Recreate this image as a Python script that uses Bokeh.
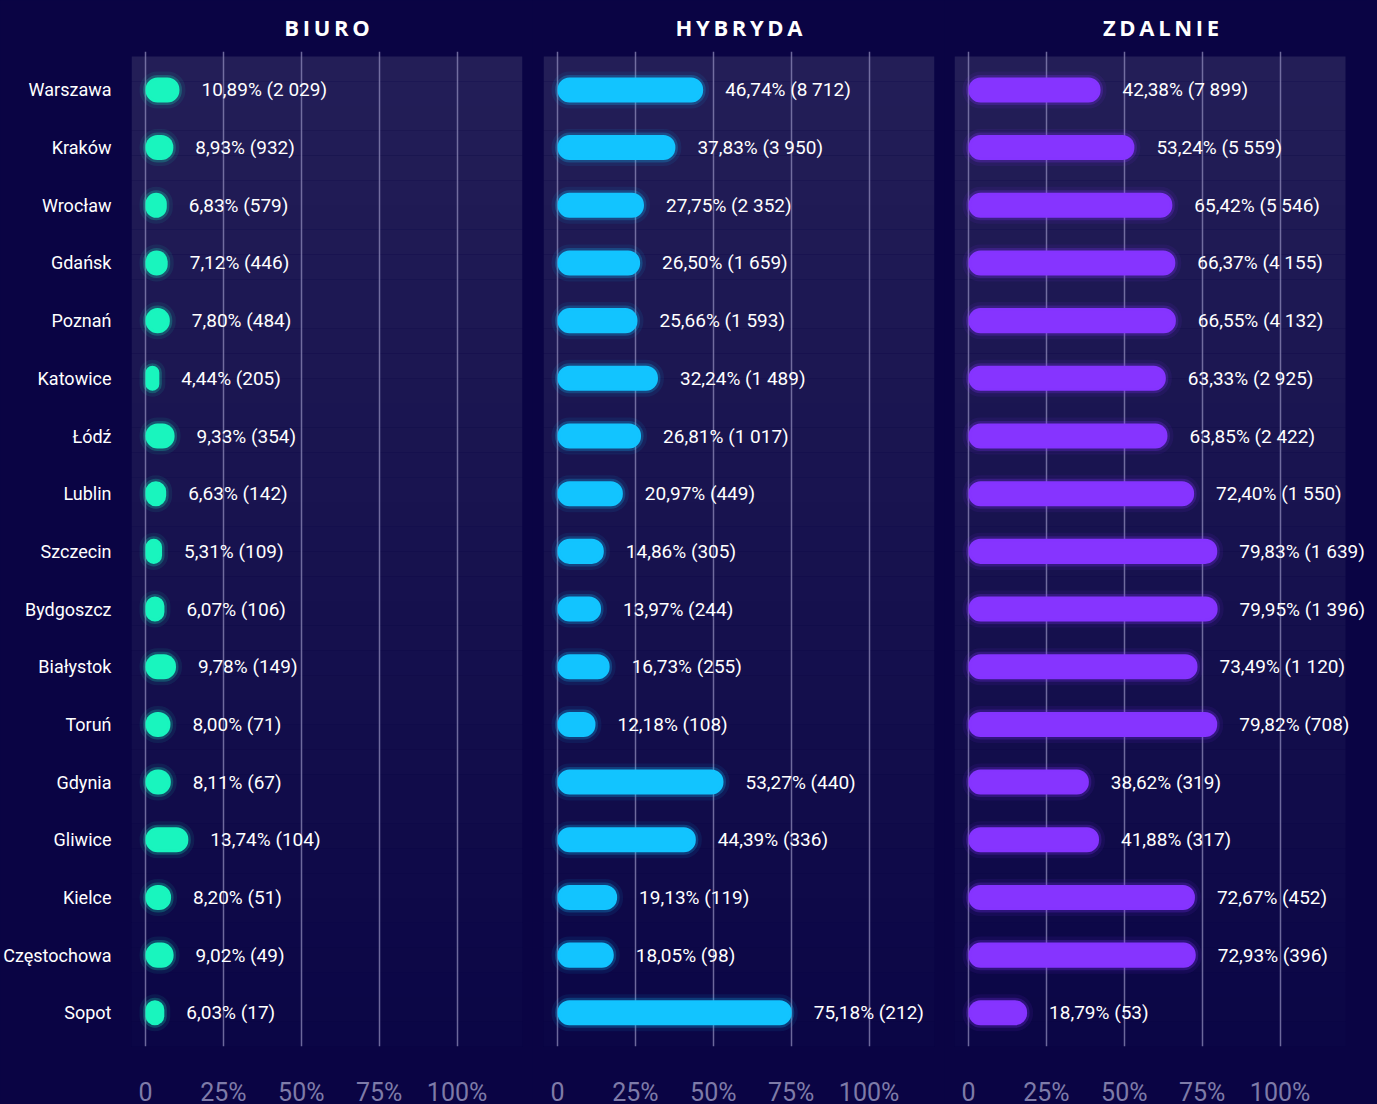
from bokeh.plotting import figure
from bokeh.layouts import row
from bokeh.models import Range1d, FixedTicker
from bokeh.embed import file_html
from bokeh.resources import INLINE
from bokeh.core.properties import value

# ---------------- data ----------------
cities = ["Warszawa", "Kraków", "Wrocław", "Gdańsk", "Poznań", "Katowice", "Łódź",
          "Lublin", "Szczecin", "Bydgoszcz", "Białystok", "Toruń", "Gdynia",
          "Gliwice", "Kielce", "Częstochowa", "Sopot"]

biuro_pct = [10.89, 8.93, 6.83, 7.12, 7.80, 4.44, 9.33, 6.63, 5.31, 6.07, 9.78,
             8.00, 8.11, 13.74, 8.20, 9.02, 6.03]
biuro_n = [2029, 932, 579, 446, 484, 205, 354, 142, 109, 106, 149, 71, 67, 104, 51, 49, 17]

hybryda_pct = [46.74, 37.83, 27.75, 26.50, 25.66, 32.24, 26.81, 20.97, 14.86, 13.97,
               16.73, 12.18, 53.27, 44.39, 19.13, 18.05, 75.18]
hybryda_n = [8712, 3950, 2352, 1659, 1593, 1489, 1017, 449, 305, 244, 255, 108, 440,
             336, 119, 98, 212]

zdalnie_pct = [42.38, 53.24, 65.42, 66.37, 66.55, 63.33, 63.85, 72.40, 79.83, 79.95,
               73.49, 79.82, 38.62, 41.88, 72.67, 72.93, 18.79]
zdalnie_n = [7899, 5559, 5546, 4155, 4132, 2925, 2422, 1550, 1639, 1396, 1120, 708,
             319, 317, 452, 396, 53]

panel_titles = ["BIURO", "HYBRYDA", "ZDALNIE"]
tick_values = [0, 25, 50, 75, 100]
tick_labels = ["0", "25%", "50%", "75%", "100%"]

# ---------------- style ----------------
BG = "#0a0444"
PANEL_TOP = (0x23, 0x1e, 0x57)
PANEL_BOT = (0x0b, 0x06, 0x46)
COLORS = ["#19F5BE", "#12C4FF", "#8634FF"]
FONT = "Roboto"
TITLE_FONT = "Open Sans"
GRID = "#8d8ab8"
TICK_COLOR = "#7e7ba8"


def fmt_pct(v):
    return f"{v:.2f}".replace(".", ",") + "%"


def fmt_n(n):
    return f"{n:,}".replace(",", " ")


ypos = list(range(len(cities)))
Y_TOP, Y_BOT = -0.666, len(cities) - 1 + 0.584
X_LO, X_PANEL = -4.5, 121.0
PX_PER_UNIT = 3.116


def make_panel(idx, pct, counts, extra_px, bl, br):
    frame_w = 391 + extra_px
    x_hi = X_PANEL + extra_px / PX_PER_UNIT
    p = figure(frame_width=frame_w, frame_height=995,
               x_range=Range1d(X_LO, x_hi), y_range=Range1d(Y_BOT, Y_TOP),
               output_backend="svg", toolbar_location=None,
               min_border_left=bl, min_border_right=br,
               min_border_top=44, min_border_bottom=40,
               background_fill_color=BG, border_fill_color=BG,
               outline_line_color=None)
    # title
    p.title.text = "\u2009".join(panel_titles[idx])
    p.title.align = "center"
    p.title.offset = -extra_px / 2
    p.title.text_color = "white"
    p.title.text_font = TITLE_FONT
    p.title.text_font_size = "22px"
    p.title.text_font_style = "bold"
    p.title.standoff = 19

    # panel background gradient
    n_b = 40
    tops, bots, cols = [], [], []
    y0 = Y_TOP + 0.088
    for i in range(n_b):
        t = i / (n_b - 1)
        tops.append(y0 + (Y_BOT - y0) * i / n_b)
        bots.append(y0 + (Y_BOT - y0) * (i + 1) / n_b)
        c = tuple(int(round(PANEL_TOP[k] + (PANEL_BOT[k] - PANEL_TOP[k]) * t)) for k in range(3))
        cols.append("#%02x%02x%02x" % c)
    bg = p.quad(left=X_LO, right=X_PANEL, top=tops, bottom=bots, fill_color=cols,
                line_color=None)
    bg.level = "image"

    # grid
    p.xgrid.ticker = FixedTicker(ticks=tick_values)
    p.xgrid.grid_line_color = GRID
    p.xgrid.grid_line_alpha = 0.75
    p.xgrid.grid_line_width = 1.5
    p.ygrid.grid_line_color = None

    color = COLORS[idx]
    # glow
    p.hbar(y=ypos, left=0, right=pct, height=0.434, fill_alpha=0,
           line_color=color, line_width=12, line_alpha=0.08, border_radius=12)
    p.hbar(y=ypos, left=0, right=pct, height=0.434, fill_color=color,
           line_color=color, line_width=5, line_alpha=0.22, border_radius=12)

    labels = [f"{fmt_pct(v)} ({fmt_n(n)})" for v, n in zip(pct, counts)]
    p.text(x=pct, y=ypos, text=labels, x_offset=22, text_align="left",
           text_baseline="middle", text_color="white",
           text_font=value(FONT), text_font_size="19px")

    # x axis
    p.xaxis.ticker = FixedTicker(ticks=tick_values)
    p.xaxis.major_label_overrides = {v: l for v, l in zip(tick_values, tick_labels)}
    p.xaxis.axis_line_color = None
    p.xaxis.major_tick_line_color = None
    p.xaxis.minor_tick_line_color = None
    p.xaxis.major_label_text_color = TICK_COLOR
    p.xaxis.major_label_text_font = FONT
    p.xaxis.major_label_text_font_size = "25px"
    p.xaxis.major_label_standoff = 25

    # y axis
    if idx == 0:
        p.yaxis.ticker = FixedTicker(ticks=ypos)
        p.yaxis.major_label_overrides = {i: c for i, c in zip(ypos, cities)}
        p.yaxis.axis_line_color = None
        p.yaxis.major_tick_line_color = None
        p.yaxis.minor_tick_line_color = None
        p.yaxis.major_label_text_color = "white"
        p.yaxis.major_label_text_font = FONT
        p.yaxis.major_label_text_font_size = "18px"
        p.yaxis.major_label_standoff = 14
    else:
        p.yaxis.visible = False
    return p


p1 = make_panel(0, biuro_pct, biuro_n, 0, 125, 10)
p2 = make_panel(1, hybryda_pct, hybryda_n, 0, 11, 10)
p3 = make_panel(2, zdalnie_pct, zdalnie_n, 22, 10, 0)

layout = row(p1, p2, p3, styles={"background-color": BG})

html = file_html(layout, INLINE)
html = html.replace("</head>", "<style>html, body { background-color: %s; }</style></head>" % BG, 1)
open("out.html", "w").write(html)
